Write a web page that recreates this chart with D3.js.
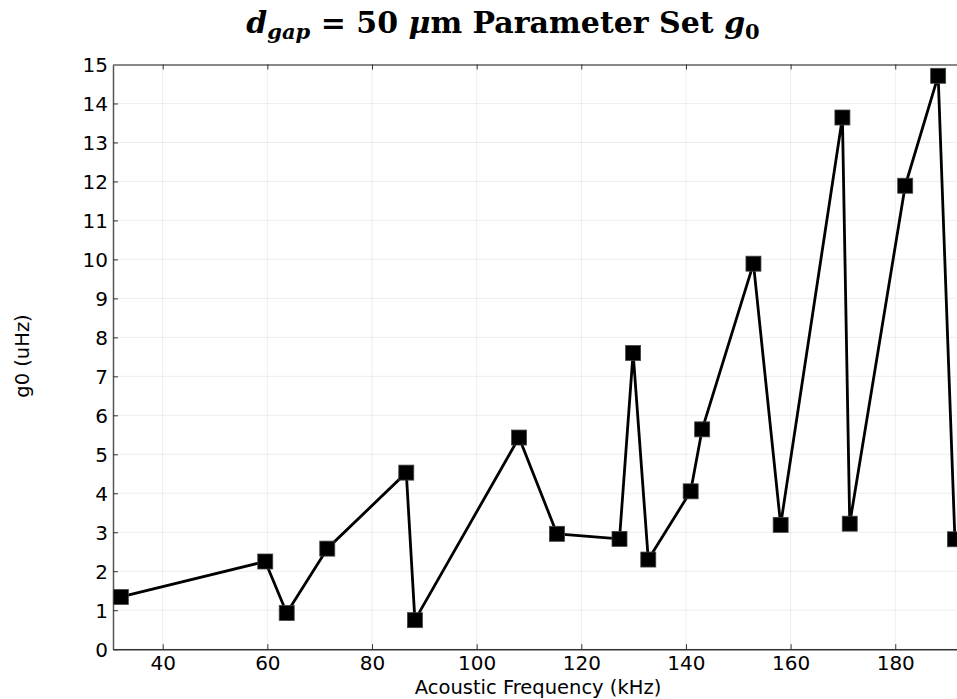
<!DOCTYPE html>
<html><head><meta charset="utf-8">
<script src="https://cdn.jsdelivr.net/npm/d3@7"></script>
<style>body{margin:0;background:#fff}svg{display:block}</style>
</head><body>
<svg id="c" width="957" height="699"></svg>
<script>
const freqKHz = [32.0, 59.6, 63.7, 71.45, 86.55, 88.2, 108.1, 115.35, 127.3, 129.9, 132.8, 140.9, 143.1, 152.9, 158.1, 169.9, 171.3, 181.9, 188.2, 191.4];
const g0uHz   = [1.34, 2.25, 0.93, 2.58, 4.53, 0.745, 5.43, 2.96, 2.83, 7.60, 2.30, 4.05, 5.64, 9.89, 3.19, 13.64, 3.22, 11.89, 14.71, 2.82];
const xTicks = [40, 60, 80, 100, 120, 140, 160, 180];
const yTicks = [0,1,2,3,4,5,6,7,8,9,10,11,12,13,14,15];
const xLabel = "Acoustic Frequency (kHz)";
const yLabel = "g0 (uHz)";

const svg = d3.select("#c");
const L = 113, R = 957, T = 64.5, B = 649.2;
const x = d3.scaleLinear().domain([30.5, 191.8]).range([L, R]);
const y = d3.scaleLinear().domain([0, 15]).range([B, T]);
const font = "'DejaVu Sans', sans-serif";

// grid
svg.append("g").selectAll("line").data(xTicks).join("line")
  .attr("x1", d=>x(d)).attr("x2", d=>x(d)).attr("y1", T).attr("y2", B)
  .attr("stroke", "#000").attr("stroke-opacity", 0.07).attr("stroke-width", 1);
svg.append("g").selectAll("line").data(yTicks).join("line")
  .attr("x1", L).attr("x2", R).attr("y1", d=>y(d)).attr("y2", d=>y(d))
  .attr("stroke", "#000").attr("stroke-opacity", 0.07).attr("stroke-width", 1);

// axes
const xAxis = d3.axisBottom(x).tickValues(xTicks).tickSizeInner(-5).tickSizeOuter(0).tickPadding(6);
const gx = svg.append("g").attr("transform", `translate(0,${B})`).call(xAxis);
gx.select(".domain").attr("stroke", "#333").attr("stroke-width", 1.5);
gx.selectAll(".tick line").attr("stroke", "#333");
gx.selectAll("text").attr("font-family", font).attr("font-size", 20).attr("fill", "#000").attr("dy", "0.72em");

const yAxis = d3.axisLeft(y).tickValues(yTicks).tickSizeInner(-5).tickSizeOuter(0).tickPadding(5);
const gy = svg.append("g").attr("transform", `translate(${L},0)`).call(yAxis);
gy.select(".domain").attr("stroke", "#555").attr("stroke-width", 1.5);
gy.selectAll(".tick line").attr("stroke", "#333");
gy.selectAll("text").attr("font-family", font).attr("font-size", 20).attr("fill", "#000").attr("dy", "0.36em");

// top border with ticks
const xTop = d3.axisTop(x).tickValues(xTicks).tickSizeInner(-5).tickSizeOuter(0).tickFormat("");
const gt = svg.append("g").attr("transform", `translate(0,${T})`).call(xTop);
gt.select(".domain").attr("stroke", "#888").attr("stroke-width", 2);
gt.selectAll(".tick line").attr("stroke", "#333");

// line + markers
const pts = freqKHz.map((f,i)=>[f, g0uHz[i]]);
svg.append("path").datum(pts)
  .attr("d", d3.line().x(d=>x(d[0])).y(d=>y(d[1])))
  .attr("fill", "none").attr("stroke", "#000").attr("stroke-width", 2.8).attr("stroke-linejoin","round");
const s = 15;
svg.append("g").selectAll("rect").data(pts).join("rect")
  .attr("x", d=>x(d[0])-s/2).attr("y", d=>y(d[1])-s/2).attr("width", s).attr("height", s)
  .attr("fill", "#000").attr("stroke", "#444").attr("stroke-width", 0.8);

// labels
svg.append("text").attr("x", 538).attr("y", 694).attr("text-anchor","middle")
  .attr("font-family", font).attr("font-size", 19.5).text(xLabel);
svg.append("text").attr("transform", "translate(29,356) rotate(-90)").attr("text-anchor","middle")
  .attr("font-family", font).attr("font-size", 19.5).text(yLabel);

// title
const t = svg.append("text").attr("x", 503).attr("y", 33).attr("text-anchor","middle")
  .attr("font-family", "'DejaVu Serif', serif").attr("font-weight","bold").attr("font-size", 30);
t.append("tspan").attr("font-style","italic").text("d");
t.append("tspan").attr("font-style","italic").attr("font-size", 21).attr("dy", 6).text("gap");
t.append("tspan").attr("dy", -6).text(" = 50 ");
t.append("tspan").attr("font-style","italic").text("μ");
t.append("tspan").text("m Parameter Set ");
t.append("tspan").attr("font-style","italic").text("g");
t.append("tspan").attr("font-size", 21).attr("dy", 6).text("0");
</script>
</body></html>
